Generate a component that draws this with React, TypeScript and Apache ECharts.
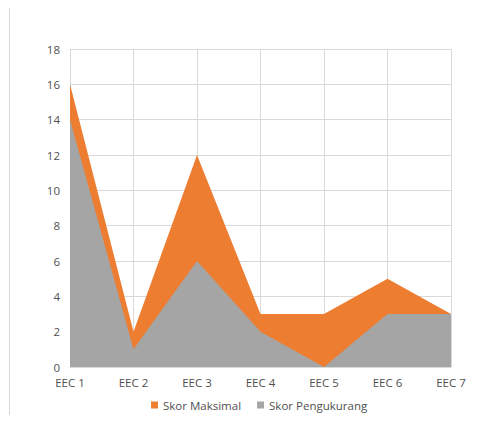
import React, { useEffect, useRef } from "react";
import * as echarts from "echarts";

const categories = ["EEC 1", "EEC 2", "EEC 3", "EEC 4", "EEC 5", "EEC 6", "EEC 7"];
const skorMaksimal = [16, 2, 12, 3, 3, 5, 3];
const skorPengukurang = [14, 1, 6, 2, 0, 3, 3];

export default function App() {
  const ref = useRef<HTMLDivElement>(null);
  useEffect(() => {
    if (!ref.current) return;
    const chart = echarts.init(ref.current, null, { renderer: "svg" });
    const font = "Open Sans, Noto Sans, sans-serif";
    chart.setOption({
      animation: false,
      backgroundColor: "#ffffff",
      textStyle: { fontFamily: font },
      grid: { left: 70, right: 41, top: 49, bottom: 54 },
      legend: {
        left: 146,
        top: 394,
        itemWidth: 7,
        itemHeight: 7,
        itemGap: 16,
        icon: "rect",
        textStyle: { color: "#505050", fontSize: 11.5, fontFamily: font },
        data: ["Skor Maksimal", "Skor Pengukurang"],
      },
      xAxis: {
        type: "category",
        data: categories,
        boundaryGap: false,
        axisLine: { show: true, lineStyle: { color: "#d9d9d9" } },
        axisTick: { show: false },
        axisLabel: { color: "#505050", fontSize: 11.5, margin: 9, fontFamily: font },
        splitLine: { show: true, lineStyle: { color: "#d9d9d9" } },
      },
      yAxis: {
        type: "value",
        min: 0,
        max: 18,
        interval: 2,
        axisLine: { show: false },
        axisTick: { show: false },
        axisLabel: { color: "#505050", fontSize: 11.5, margin: 10, fontFamily: font },
        splitLine: { show: true, lineStyle: { color: "#d9d9d9" } },
      },
      graphic: [
        {
          type: "line",
          shape: { x1: 9.5, y1: 8, x2: 9.5, y2: 415 },
          style: { stroke: "#d9d9d9", lineWidth: 1 },
        },
      ],
      series: [
        {
          name: "Skor Maksimal",
          type: "line",
          data: skorMaksimal,
          symbol: "none",
          lineStyle: { width: 0 },
          itemStyle: { color: "#ED7D31" },
          areaStyle: { color: "#ED7D31", opacity: 1 },
          z: 2,
        },
        {
          name: "Skor Pengukurang",
          type: "line",
          data: skorPengukurang,
          symbol: "none",
          lineStyle: { width: 0 },
          itemStyle: { color: "#A5A5A5" },
          areaStyle: { color: "#A5A5A5", opacity: 1 },
          z: 3,
        },
      ],
    });
    return () => chart.dispose();
  }, []);
  return (
    <div
      ref={ref}
      style={{ position: "fixed", left: 0, top: 0, width: 492, height: 421 }}
    />
  );
}
